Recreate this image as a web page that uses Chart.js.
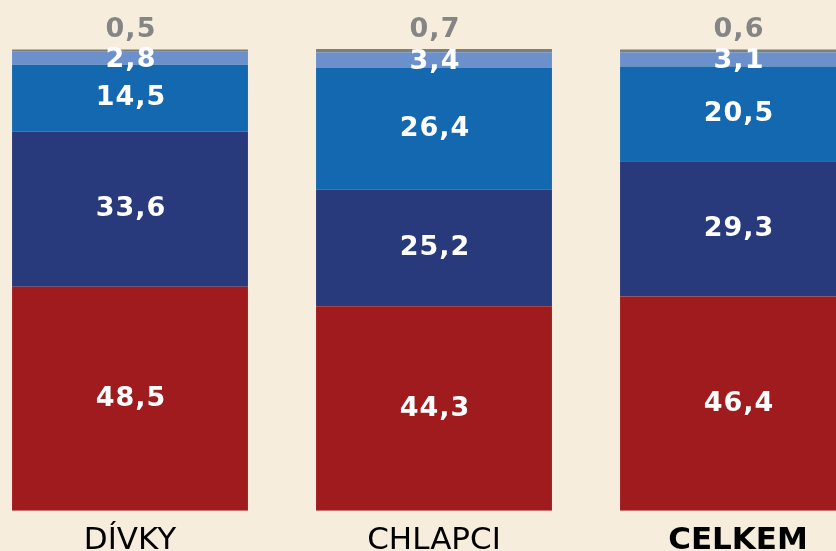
<!DOCTYPE html>
<html>
<head>
<meta charset="utf-8">
<script src="https://cdn.jsdelivr.net/npm/chart.js@4.4.1/dist/chart.umd.min.js"></script>
<style>
    html, body {
        margin: 0;
        padding: 0;
        width: 836px;
        height: 551px;
        overflow: hidden;
        background: #f7eddc;
    }
    .wrap {
        position: absolute;
        left: -22px;
        top: 0;
        width: 912px;
        height: 580px;
    }
</style>
</head>
<body>
<div class="wrap"><canvas id="chart"></canvas></div>
<script>
// Data
const groups = ['DÍVKY', 'CHLAPCI', 'CELKEM'];
const seriesRed = [48.5, 44.3, 46.4];
const seriesNavy = [33.6, 25.2, 29.3];
const seriesBlue = [14.5, 26.4, 20.5];
const seriesLight = [2.8, 3.4, 3.1];
const seriesGray = [0.5, 0.7, 0.6];

const fmt = v => v.toFixed(1).replace('.', ',');

// draw the value labels onto the segments
const valueLabels = {
    id: 'valueLabels',
    afterDatasetsDraw(chart) {
        const ctx = chart.ctx;
        ctx.save();
        ctx.font = 'bold 27px "DejaVu Sans"';
        ctx.letterSpacing = '1px';
        ctx.textAlign = 'center';
        ctx.textBaseline = 'middle';
        chart.data.datasets.forEach((ds, i) => {
            const meta = chart.getDatasetMeta(i);
            meta.data.forEach((bar, j) => {
                const v = ds.data[j];
                if (i === 4) {
                    ctx.fillStyle = '#858585';
                    ctx.fillText(fmt(v), bar.x + 1, bar.y - 19);
                } else {
                    ctx.fillStyle = '#ffffff';
                    const y = (bar.y + bar.base) / 2;
                    ctx.fillText(fmt(v), bar.x + 1, i === 3 ? y + 2 : y);
                }
            });
        });
        ctx.restore();
    }
};

new Chart(document.getElementById('chart'), {
    type: 'bar',
    data: {
        labels: groups,
        datasets: [
            { data: seriesRed, backgroundColor: '#a01b1d' },
            { data: seriesNavy, backgroundColor: '#283a7b' },
            { data: seriesBlue, backgroundColor: '#1368b0' },
            { data: seriesLight, backgroundColor: '#6b90cb' },
            { data: seriesGray, backgroundColor: '#7f7f78' }
        ]
    },
    options: {
        responsive: true,
        maintainAspectRatio: false,
        animation: false,
        datasets: {
            bar: {
                barPercentage: 0.776,
                categoryPercentage: 1,
                borderWidth: 0
            }
        },
        layout: {
            padding: { top: 49, bottom: 16, left: 0, right: 0 }
        },
        scales: {
            x: {
                stacked: true,
                grid: { display: false },
                border: { display: false },
                ticks: {
                    color: '#000000',
                    padding: 4,
                    font: c => ({
                        family: '"DejaVu Sans"',
                        size: 31,
                        weight: c.index === 2 ? 'bold' : 'normal'
                    })
                }
            },
            y: {
                stacked: true,
                display: false,
                min: 0,
                max: 100
            }
        },
        plugins: {
            legend: { display: false },
            tooltip: { enabled: false }
        }
    },
    plugins: [valueLabels]
});
</script>
</body>
</html>
